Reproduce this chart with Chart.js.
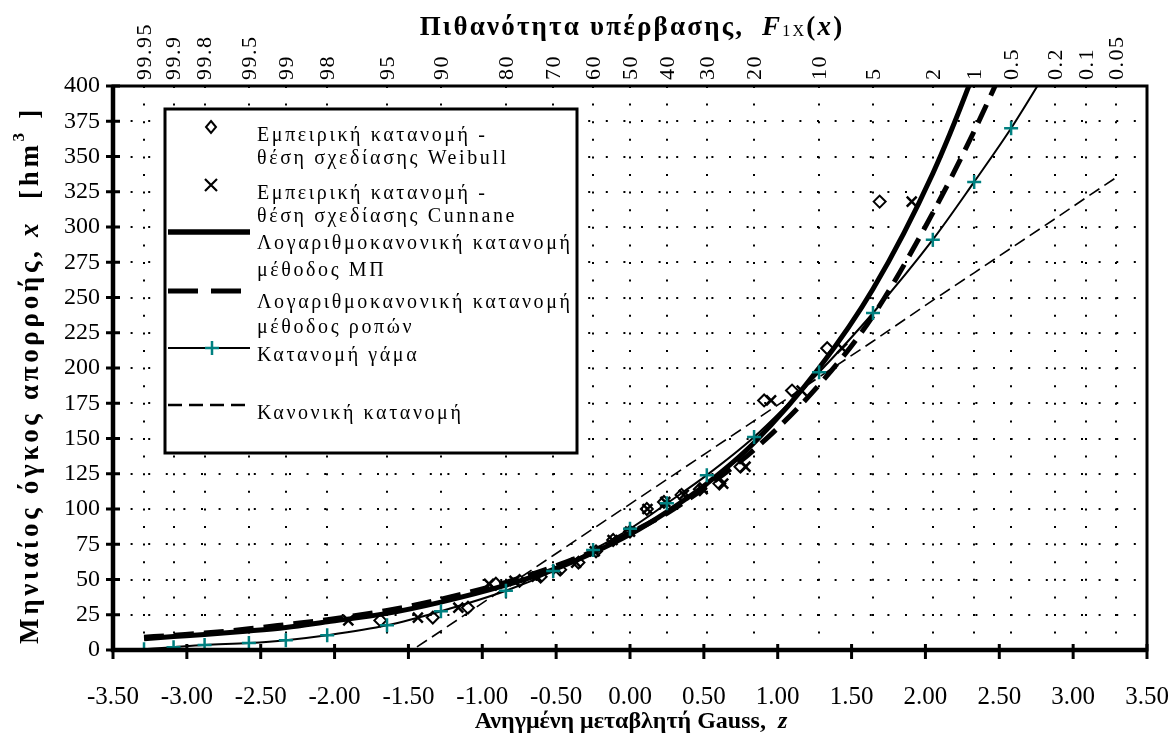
<!DOCTYPE html>
<html>
<head>
<meta charset="utf-8">
<script src="https://cdn.jsdelivr.net/npm/chart.js@4/dist/chart.umd.min.js"></script>
<style>
  html, body { margin: 0; padding: 0; background: #fff; }
</style>
</head>
<body>
<canvas id="chart" width="1171" height="754"></canvas>
<script>
// Gauss variate z at the exceedance probabilities of the top axis
const zTop = [-3.29, -3.09, -2.88, -2.58, -2.33, -2.05, -1.645, -1.28, -0.84, -0.52, -0.25, 0, 0.25, 0.52, 0.84, 1.28, 1.645, 2.05, 2.33, 2.58, 2.88, 3.09, 3.29];
const probLabels = ["99.95", "99.9", "99.8", "99.5", "99", "98", "95", "90", "80", "70", "60", "50", "40", "30", "20", "10", "5", "2", "1", "0.5", "0.2", "0.1", "0.05"];

// empirical monthly volumes (ascending) and their plotting positions
const obsValues = [21, 23, 30, 47, 49, 52, 57, 62, 70, 78, 84, 100, 105, 110, 114, 118, 130, 177, 184, 214, 318];
const zWeibull = [-1.69, -1.335, -1.097, -0.908, -0.748, -0.605, -0.473, -0.349, -0.23, -0.114, 0, 0.114, 0.23, 0.349, 0.473, 0.605, 0.748, 0.908, 1.097, 1.335, 1.69];
const zCunnane = [-1.907, -1.436, -1.162, -0.955, -0.782, -0.631, -0.492, -0.364, -0.239, -0.118, 0, 0.118, 0.239, 0.364, 0.492, 0.631, 0.782, 0.955, 1.162, 1.436, 1.907];

// fitted distributions, values at zTop
const lnMP = [8, 9.5, 11, 13.5, 16, 20, 26, 34, 46, 57, 69, 82, 98, 118, 147, 200, 256, 338, 410, 485];
const lnMoments = [9, 10.5, 12, 15, 18, 21.5, 28, 36, 48, 59, 70, 83, 97, 116, 142, 188, 237, 310, 368, 425];
const gammaVals = [0.5, 2, 3.5, 5, 7, 10.5, 17.5, 27.5, 42, 56, 71, 86, 104, 124, 151, 197, 239, 291, 332, 370, 421];
const normalZ = zTop.slice(6);
const normalVals = [-12, 13.5, 44.5, 67, 86, 103.5, 121, 140, 162.5, 193.5, 219, 248, 267.5, 285, 306, 321, 335];

const SERIF = '"Liberation Serif", "Times New Roman", serif';
const TEAL = "#008080";

const pts = (xs, ys) => ys.map((y, i) => ({ x: xs[i], y }));

// draw a row of text runs centred on (cx, cy)
function drawRuns(ctx, runs, cx, cy, spacing) {
  ctx.letterSpacing = spacing + "px";
  let w = 0;
  runs.forEach((r) => {
    ctx.font = r.font;
    r.w = ctx.measureText(r.t).width;
    w += r.w;
  });
  let x = cx - w / 2;
  runs.forEach((r) => {
    ctx.font = r.font;
    ctx.fillText(r.t, x, cy + (r.dy || 0));
    x += r.w;
  });
  ctx.letterSpacing = "0px";
}

const decor = {
  id: "decor",
  beforeDraw(chart) {
    const ctx = chart.ctx;
    ctx.save();
    ctx.fillStyle = "#fff";
    ctx.fillRect(0, 0, chart.width, chart.height);
    ctx.restore();
  },
  afterDatasetsDraw(chart) {
    const { ctx, chartArea: a, scales } = chart;
    ctx.save();
    ctx.strokeStyle = "#000";
    ctx.fillStyle = "#000";

    // frame and axes
    ctx.lineWidth = 3;
    ctx.strokeRect(a.left, a.top, a.right - a.left, a.bottom - a.top);
    ctx.lineWidth = 4.5;
    ctx.beginPath();
    ctx.moveTo(a.left, a.top);
    ctx.lineTo(a.left, a.bottom);
    ctx.lineTo(a.right, a.bottom);
    ctx.stroke();

    // crossing tick marks
    ctx.lineWidth = 3;
    scales.x.ticks.forEach((t) => {
      const px = scales.x.getPixelForValue(t.value);
      ctx.beginPath();
      ctx.moveTo(px, a.bottom - 6);
      ctx.lineTo(px, a.bottom + 9);
      ctx.stroke();
    });
    scales.y.ticks.forEach((t) => {
      const py = scales.y.getPixelForValue(t.value);
      ctx.beginPath();
      ctx.moveTo(a.left - 7, py);
      ctx.lineTo(a.left + 7, py);
      ctx.stroke();
    });

    // probability labels of the top axis, rotated
    ctx.font = "22px " + SERIF;
    ctx.letterSpacing = "1.5px";
    ctx.textAlign = "left";
    ctx.textBaseline = "middle";
    scales.xTop.ticks.forEach((t, i) => {
      ctx.save();
      ctx.translate(scales.xTop.getPixelForValue(t.value), a.top - 6);
      ctx.rotate(-Math.PI / 2);
      ctx.fillText(probLabels[i], 0, 1);
      ctx.restore();
    });
    ctx.letterSpacing = "0px";

    // titles
    drawRuns(ctx, [
      { t: "Πιθανότητα υπέρβασης,  ", font: "bold 27px " + SERIF },
      { t: "F", font: "italic bold 27px " + SERIF },
      { t: "1X", font: "16px " + SERIF, dy: 4 },
      { t: "(", font: "bold 27px " + SERIF },
      { t: "x", font: "italic bold 27px " + SERIF },
      { t: ")", font: "bold 27px " + SERIF }
    ], 632, 28, 2.2);
    drawRuns(ctx, [
      { t: "Ανηγμένη μεταβλητή Gauss,  ", font: "bold 24px " + SERIF },
      { t: "z", font: "italic bold 24px " + SERIF }
    ], 631, 722, 0);
    ctx.save();
    ctx.translate(31, 375);
    ctx.rotate(-Math.PI / 2);
    drawRuns(ctx, [
      { t: "Μηνιαίος όγκος απορροής, ", font: "bold 27px " + SERIF },
      { t: "x", font: "italic bold 27px " + SERIF },
      { t: "  [hm", font: "bold 27px " + SERIF },
      { t: "3", font: "bold 17px " + SERIF, dy: -11 },
      { t: " ]", font: "bold 27px " + SERIF }
    ], 0, 0, 3.7);
    ctx.restore();

    // legend box
    const L = { left: 165, top: 109, right: 577, bottom: 453 };
    ctx.fillStyle = "#fff";
    ctx.fillRect(L.left, L.top, L.right - L.left, L.bottom - L.top);
    ctx.lineWidth = 3;
    ctx.strokeRect(L.left, L.top, L.right - L.left, L.bottom - L.top);

    // legend symbols
    ctx.strokeStyle = "#000";
    ctx.lineWidth = 2;
    ctx.beginPath();
    ctx.moveTo(211, 121); ctx.lineTo(216, 127); ctx.lineTo(211, 133); ctx.lineTo(206, 127); ctx.closePath();
    ctx.stroke();
    ctx.lineWidth = 2.2;
    ctx.beginPath();
    ctx.moveTo(205, 179); ctx.lineTo(217, 191);
    ctx.moveTo(217, 179); ctx.lineTo(205, 191);
    ctx.stroke();
    const seg = (y, w, dash) => {
      ctx.lineWidth = w;
      ctx.setLineDash(dash);
      ctx.beginPath();
      ctx.moveTo(168, y);
      ctx.lineTo(250, y);
      ctx.stroke();
      ctx.setLineDash([]);
    };
    seg(232, 5.5, []);
    seg(291, 5, [30, 13]);
    seg(348, 2, []);
    seg(405, 2.5, [14, 7]);
    ctx.strokeStyle = TEAL;
    ctx.lineWidth = 2.5;
    ctx.beginPath();
    ctx.moveTo(212, 341); ctx.lineTo(212, 355);
    ctx.moveTo(205, 348); ctx.lineTo(219, 348);
    ctx.stroke();

    // legend text
    ctx.fillStyle = "#000";
    ctx.font = "20px " + SERIF;
    ctx.letterSpacing = "2.6px";
    const lines = [
      ["Εμπειρική κατανομή -", 136],
      ["θέση σχεδίασης Weibull", 159],
      ["Εμπειρική κατανομή -", 194],
      ["θέση σχεδίασης Cunnane", 217],
      ["Λογαριθμοκανονική κατανομή", 244],
      ["μέθοδος ΜΠ", 271],
      ["Λογαριθμοκανονική κατανομή", 303],
      ["μέθοδος ροπών", 328],
      ["Κατανομή γάμα", 356],
      ["Κανονική κατανομή", 414]
    ];
    lines.forEach(([t, y]) => ctx.fillText(t, 257, y));
    ctx.letterSpacing = "0px";
    ctx.restore();
  }
};

const dottedGrid = {
  color: "#000",
  lineWidth: 2,
  drawTicks: false
};

new Chart(document.getElementById("chart"), {
  type: "scatter",
  data: {
    datasets: [
      {
        label: "Κατανομή γάμα",
        data: pts(zTop, gammaVals),
        showLine: true,
        borderColor: "#000",
        borderWidth: 2,
        cubicInterpolationMode: "monotone",
        pointStyle: "cross",
        pointRadius: 7,
        pointBorderWidth: 2.5,
        pointBorderColor: TEAL,
        pointBackgroundColor: TEAL,
        order: 1
      },
      {
        label: "Εμπειρική κατανομή - θέση σχεδίασης Weibull",
        data: pts(zWeibull, obsValues),
        pointStyle: "rectRot",
        pointRadius: 6,
        borderColor: "#000",
        backgroundColor: "rgba(0,0,0,0)",
        borderWidth: 2,
        order: 2
      },
      {
        label: "Εμπειρική κατανομή - θέση σχεδίασης Cunnane",
        data: pts(zCunnane, obsValues),
        pointStyle: "crossRot",
        pointRadius: 7,
        borderColor: "#000",
        borderWidth: 2.5,
        order: 2
      },
      {
        label: "Λογαριθμοκανονική κατανομή μέθοδος ΜΠ",
        data: pts(zTop, lnMP),
        showLine: true,
        borderColor: "#000",
        borderWidth: 5,
        pointRadius: 0,
        cubicInterpolationMode: "monotone",
        order: 3
      },
      {
        label: "Λογαριθμοκανονική κατανομή μέθοδος ροπών",
        data: pts(zTop, lnMoments),
        showLine: true,
        borderColor: "#000",
        borderWidth: 5,
        borderDash: [20, 10],
        pointRadius: 0,
        cubicInterpolationMode: "monotone",
        order: 4
      },
      {
        label: "Κανονική κατανομή",
        data: pts(normalZ, normalVals),
        showLine: true,
        borderColor: "#000",
        borderWidth: 1.6,
        borderDash: [12, 6],
        pointRadius: 0,
        order: 5
      }
    ]
  },
  options: {
    responsive: false,
    animation: false,
    devicePixelRatio: 1,
    layout: { padding: { left: 0, right: 24, top: 0, bottom: 0 } },
    plugins: {
      legend: { display: false },
      tooltip: { enabled: false }
    },
    scales: {
      x: {
        type: "linear",
        position: "bottom",
        min: -3.5,
        max: 3.5,
        grid: { display: false },
        border: { display: false },
        ticks: {
          stepSize: 0.5,
          autoSkip: false,
          maxRotation: 0,
          padding: 24,
          color: "#000",
          font: { family: SERIF, size: 25 },
          callback: (v) => Number(v).toFixed(2)
        },
        afterFit: (s) => {
          s.height = 104;
          s.paddingLeft = 0;
          s.paddingRight = 0;
        }
      },
      xTop: {
        type: "linear",
        position: "top",
        min: -3.5,
        max: 3.5,
        grid: dottedGrid,
        border: { display: false, dash: [2, 15.6] },
        afterBuildTicks: (s) => {
          s.ticks = zTop.map((v) => ({ value: v }));
        },
        ticks: { display: false },
        afterFit: (s) => {
          s.height = 86;
          s.paddingLeft = 0;
          s.paddingRight = 0;
        }
      },
      y: {
        min: 0,
        max: 400,
        grid: dottedGrid,
        border: { display: false, dash: [2, 15.6] },
        ticks: {
          stepSize: 25,
          padding: 13,
          color: "#000",
          font: { family: SERIF, size: 24 }
        },
        afterFit: (s) => {
          s.width = 113;
        }
      }
    }
  },
  plugins: [decor]
});
</script>
</body>
</html>
